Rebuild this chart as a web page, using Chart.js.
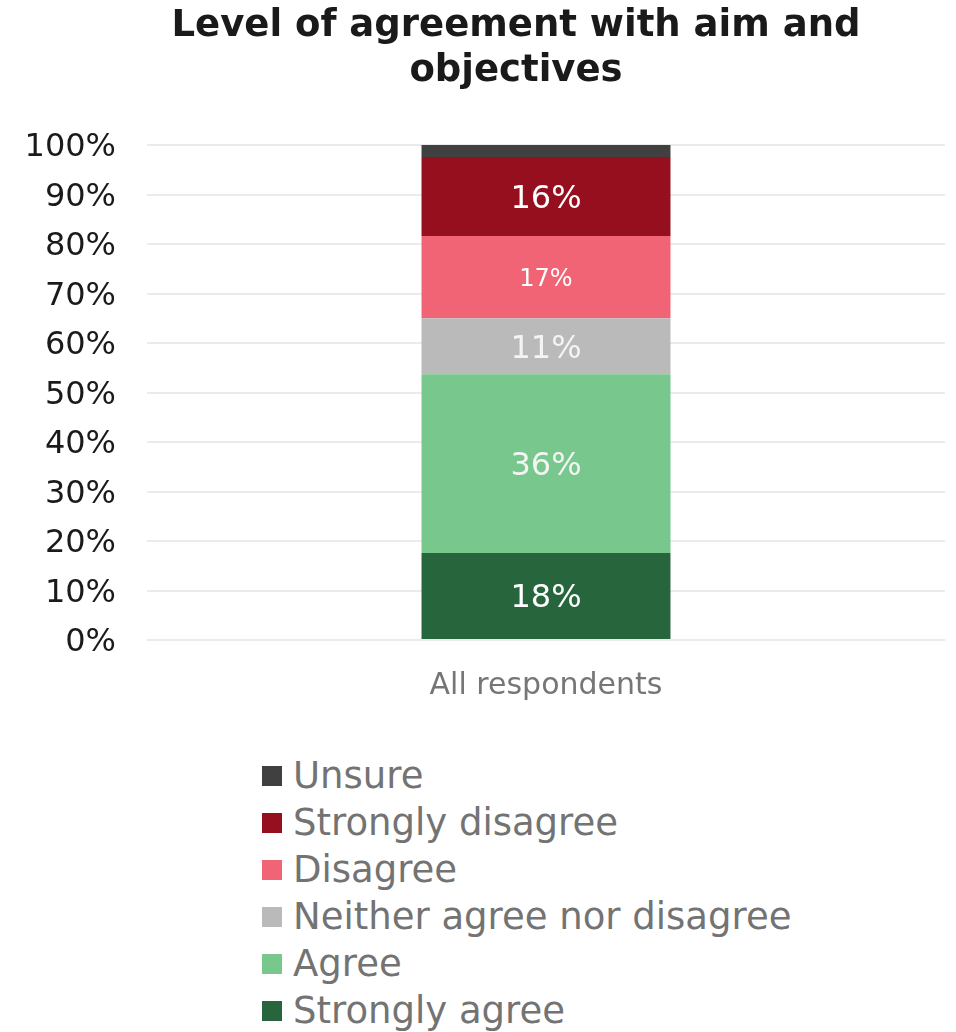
<!DOCTYPE html>
<html>
<head>
<meta charset="utf-8">
<title>Level of agreement with aim and objectives</title>
<script src="https://cdn.jsdelivr.net/npm/chart.js@4.4.1/dist/chart.umd.min.js"></script>
<style>
  html, body { margin: 0; padding: 0; background: #ffffff; overflow: hidden; }
  #wrap { position: relative; width: 956px; height: 720px; }
  #legend {
    position: absolute; left: 262px; top: 752px;
    margin: 0; padding: 0; list-style: none;
    font-family: "DejaVu Sans", Verdana, sans-serif;
    font-size: 37px; line-height: 47px; color: #737373;
  }
  #legend li { display: flex; align-items: center; white-space: nowrap; }
  #legend .box { width: 20px; height: 20px; margin-right: 11px; flex: none; }
</style>
</head>
<body>
<div id="wrap"><canvas id="chart"></canvas></div>
<ul id="legend"></ul>

<script>
// ==========================================
// DATA
// ==========================================

const categories = ["All respondents"];

// stacked from the bottom up
const seriesNames = ["Strongly agree", "Agree", "Neither agree nor disagree", "Disagree", "Strongly disagree", "Unsure"];
const strongAgree = [17.6];
const agree = [36.1];
const neither = [11.3];
const disagree = [16.6];
const strongDisagree = [16.0];
const unsure = [2.4];

const yTicks = [0, 10, 20, 30, 40, 50, 60, 70, 80, 90, 100];
const titleLines = ["Level of agreement with aim and", "objectives"];

// ==========================================
// STYLE
// ==========================================

const seriesColors = ["#27663d", "#78c88e", "#bababa", "#f06475", "#960f1f", "#404040"];
const labelColors = ["#ffffff", "#f4f4f4", "#f4f4f4", "#ffffff", "#ffffff", null];
const labelSizes = [32, 32, 32, 24, 32, 0];
const fontFamily = "'DejaVu Sans', Verdana, sans-serif";

const seriesValues = [strongAgree, agree, neither, disagree, strongDisagree, unsure];

// Title drawn by hand so it can sit a bit right of the canvas centre
const chartTitle = {
  id: "chartTitle",
  afterDraw(chart) {
    const ctx = chart.ctx;
    ctx.save();
    ctx.fillStyle = "#1a1a1a";
    ctx.font = "bold 37px " + fontFamily;
    ctx.textAlign = "center";
    ctx.textBaseline = "middle";
    titleLines.forEach((line, i) => ctx.fillText(line, 516, 26 + i * 45));
    ctx.restore();
  },
};

// Value labels in the middle of each segment (rounded percentage)
const segmentLabels = {
  id: "segmentLabels",
  afterDatasetsDraw(chart) {
    const ctx = chart.ctx;
    chart.data.datasets.forEach((ds, i) => {
      if (!labelColors[i]) return;
      const meta = chart.getDatasetMeta(i);
      meta.data.forEach((bar, j) => {
        const v = ds.data[j];
        const mid = (bar.y + bar.base) / 2 + 3;
        ctx.save();
        ctx.fillStyle = labelColors[i];
        ctx.font = labelSizes[i] + "px " + fontFamily;
        ctx.textAlign = "center";
        ctx.textBaseline = "middle";
        ctx.fillText(Math.round(v) + "%", bar.x, mid);
        ctx.restore();
      });
    });
  },
};

const datasets = seriesNames.map((name, i) => ({
  label: name,
  data: seriesValues[i],
  backgroundColor: seriesColors[i],
  borderWidth: 0,
  barPercentage: 0.312,
  categoryPercentage: 1,
}));

const chart = new Chart(document.getElementById("chart"), {
  type: "bar",
  data: { labels: categories, datasets: datasets },
  plugins: [segmentLabels, chartTitle],
  options: {
    responsive: true,
    maintainAspectRatio: false,
    animation: false,
    layout: { padding: { left: 24, right: 11, top: 145, bottom: 0 } },
    plugins: {
      legend: { display: false },
      tooltip: { enabled: false },
      title: { display: false },
    },
    scales: {
      x: {
        stacked: true,
        grid: { display: false },
        border: { display: false },
        afterFit: (axis) => { axis.height = 80; },
        ticks: { color: "#767676", padding: 20, font: { family: fontFamily, size: 30 } },
      },
      y: {
        stacked: true,
        min: 0,
        max: 100,
        afterBuildTicks: (axis) => { axis.ticks = yTicks.map((v) => ({ value: v })); },
        afterFit: (axis) => { axis.width = 123; },
        grid: { color: "#ebebeb", lineWidth: 2, drawTicks: false },
        border: { display: false },
        ticks: {
          color: "#1a1a1a",
          padding: 31,
          labelOffset: 3,
          font: { family: fontFamily, size: 32 },
          callback: (v) => v + "%",
        },
      },
    },
  },
});

// Legend listed top to bottom in reverse stack order
const legendEl = document.getElementById("legend");
seriesNames.slice().reverse().forEach((name, k) => {
  const i = seriesNames.length - 1 - k;
  legendEl.innerHTML += `<li><span class="box" style="background:${seriesColors[i]}"></span>${name}</li>`;
});
</script>
</body>
</html>
